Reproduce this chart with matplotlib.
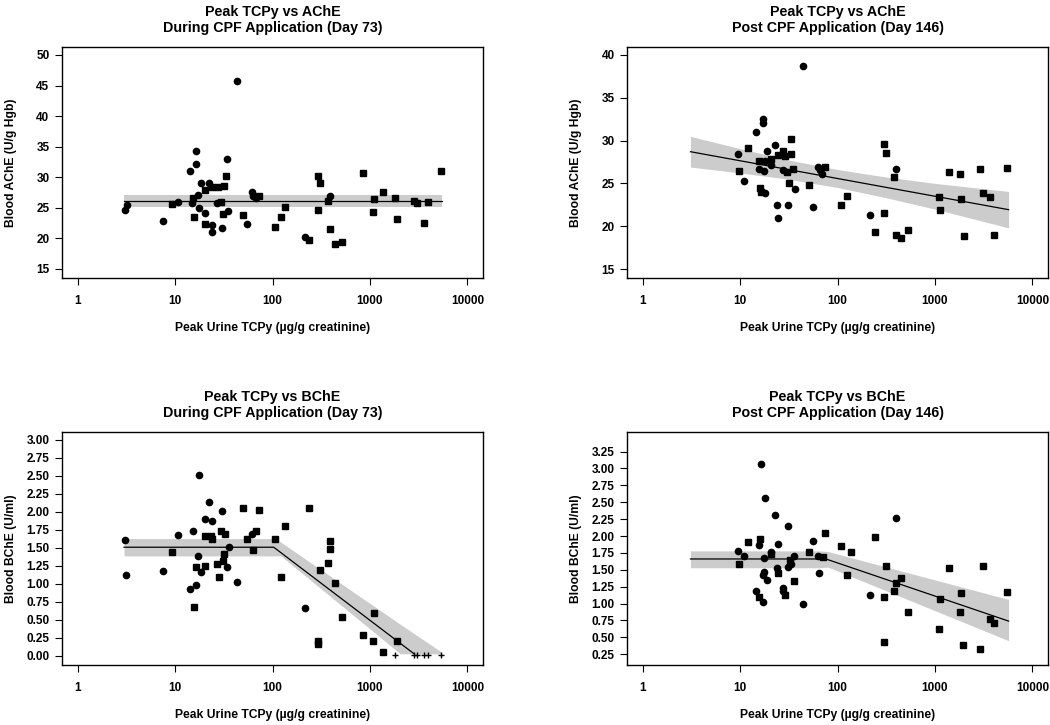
import numpy as np
import matplotlib as mpl
mpl.use('Agg')
import matplotlib.pyplot as plt

plt.rcParams['font.family'] = ['Liberation Sans', 'DejaVu Sans']
plt.rcParams['font.weight'] = 'bold'
plt.rcParams['axes.titleweight'] = 'bold'
plt.rcParams['axes.labelweight'] = 'bold'

#Peak TCPy vs AChE, day 73
ache73_circ_x = [43.3, 16.6, 16.6, 14.3, 33.9, 18.4, 22.4, 17.1, 15.1, 10.8, 3.19, 3.03, 17.7,
                 27.0, 35.3, 20.4, 7.6, 23.8, 24.0, 30.4, 55.1, 61.5, 63.5, 67.6, 393, 213]
ache73_circ_y = [45.7, 34.2, 32.2, 31.0, 33.0, 29.1, 29.0, 27.1, 25.8, 26.0, 25.4, 24.6, 25.0,
                 25.8, 24.5, 24.2, 22.9, 22.1, 21.1, 21.7, 22.4, 27.6, 27.0, 26.6, 27.0, 20.2]
ache73_sq_x = [33.6, 23.8, 27.7, 32.1, 20.2, 15.4, 9.4, 29.9, 30.9, 15.8, 20.5, 50.2, 73.1, 134,
               122, 105, 296, 310, 840, 5310, 371, 296, 1355, 1097, 1797, 1081, 1915, 2810,
               3070, 3950, 3590, 389, 239, 438, 516]
ache73_sq_y = [30.25, 28.45, 28.45, 28.6, 27.85, 26.65, 25.6, 26.0, 23.9, 23.5, 22.3, 23.8, 26.9,
               25.1, 23.5, 21.9, 30.25, 29.1, 30.7, 31.0, 26.1, 24.6, 27.6, 26.4, 26.6, 24.3,
               23.2, 26.05, 25.8, 25.9, 22.5, 21.5, 19.7, 19.0, 19.4]
ache73_fit_x = [3.0, 5500]
ache73_fit_y = [26.15, 26.15]
ache73_band_x = [3.0, 5500]
ache73_band_lo = [25.2, 25.2]
ache73_band_hi = [27.1, 27.1]

#Peak TCPy vs AChE, day 146
ache146_circ_x = [44.3, 17.0, 17.0, 14.6, 9.5, 18.8, 22.9, 18.0, 21.0, 15.6, 17.7, 27.7, 11.0,
                  18.2, 36.4, 24.2, 31.3, 24.8, 56.4, 63.5, 66.5, 69.7, 218, 402]
ache146_circ_y = [38.75, 32.5, 32.1, 31.0, 28.4, 28.75, 29.5, 27.6, 27.2, 26.65, 26.5, 26.6, 25.25,
                  23.9, 24.35, 22.45, 22.5, 21.0, 22.25, 26.95, 26.55, 26.1, 21.3, 26.65]
ache146_sq_x = [12.0, 33.1, 27.9, 24.4, 29.0, 33.4, 20.7, 15.8, 9.7, 30.4, 35.3, 31.6, 16.1, 16.5,
                51.4, 74.8, 300, 318, 380, 125, 108, 303, 245, 402, 448, 528, 1387, 1814, 2905,
                5490, 1107, 1122, 1841, 3140, 3675, 1973, 4040]
ache146_sq_y = [29.15, 30.15, 28.8, 28.3, 28.2, 28.4, 27.8, 27.6, 26.45, 26.3, 26.65, 25.1, 24.5,
                23.95, 24.8, 26.95, 29.65, 28.5, 25.7, 23.5, 22.45, 21.55, 19.3, 18.95, 18.6,
                19.5, 26.35, 26.1, 26.7, 26.85, 23.4, 21.9, 23.15, 23.9, 23.4, 18.85, 18.95]
ache146_fit_x = [3.1, 5700]
ache146_fit_y = [28.7, 21.93]
ache146_band_x = [3.1, 10, 30, 100, 300, 1000, 5700]
ache146_band_lo = [26.91, 26.22, 25.52, 24.52, 23.38, 22.00, 19.80]
ache146_band_hi = [30.49, 29.06, 27.78, 26.62, 25.78, 25.00, 24.06]

#Peak TCPy vs BChE, day 73
bche73_circ_x = [17.7, 22.4, 30.4, 20.4, 24.0, 15.2, 10.7, 62.1, 3.03, 35.6, 17.1, 33.9, 18.5,
                 7.6, 3.17, 43.0, 16.6, 14.3, 213]
bche73_circ_y = [2.51, 2.14, 2.01, 1.90, 1.87, 1.73, 1.68, 1.70, 1.61, 1.52, 1.39, 1.24, 1.17,
                 1.18, 1.13, 1.03, 0.99, 0.93, 0.67]
bche73_sq_x = [50.2, 73.1, 135, 20.2, 23.6, 23.8, 29.9, 32.3, 67.7, 55.1, 106, 63.5, 9.4, 32.1,
               30.9, 27.0, 16.6, 20.5, 28.1, 122, 15.5, 239, 393, 393, 371, 307, 438, 516,
               1097, 294, 294, 840, 1081, 1915, 1355]
bche73_sq_y = [2.06, 2.03, 1.81, 1.67, 1.67, 1.62, 1.74, 1.70, 1.73, 1.63, 1.63, 1.47, 1.44, 1.42,
               1.32, 1.28, 1.24, 1.25, 1.09, 1.09, 0.68, 2.06, 1.59, 1.49, 1.29, 1.19, 1.01, 0.54,
               0.60, 0.21, 0.17, 0.29, 0.21, 0.21, 0.06]
bche73_plus_x = [1797, 2860, 3070, 3620, 3950, 5360]
bche73_plus_y = [0.02, 0.02, 0.02, 0.02, 0.02, 0.02]
bche73_fit_x = [3.0, 103, 2840]
bche73_fit_y = [1.51, 1.51, 0.03]
bche73_band_x = [3.0, 107, 122, 2050, 5360]
bche73_band_lo = [1.39, 1.39, 1.39, 0.03, 0.03]
bche73_band_hi = [1.63, 1.63, 1.58, 0.44, 0.06]

#Peak TCPy vs BChE, day 146
bche146_circ_x = [16.3, 18.1, 22.9, 31.1, 15.5, 24.6, 56.4, 9.5, 11.0, 21.0, 17.8, 36.1, 33.4,
                  30.9, 24.2, 63.5, 17.5, 17.0, 18.8, 64.5, 14.6, 27.7, 27.9, 17.0, 44.3, 402, 218]
bche146_circ_y = [3.07, 2.56, 2.31, 2.15, 1.87, 1.88, 1.92, 1.78, 1.71, 1.77, 1.67, 1.70, 1.59,
                  1.54, 1.53, 1.70, 1.47, 1.43, 1.35, 1.45, 1.19, 1.23, 1.18, 1.02, 1.00, 2.26, 1.12]
bche146_sq_x = [12.0, 16.2, 21.0, 32.8, 51.4, 9.7, 24.4, 35.6, 28.8, 15.8, 70.5, 74.8, 245, 109,
                138, 125, 318, 448, 398, 380, 303, 528, 303, 1387, 3140, 5490, 1122, 1841, 1814,
                1107, 3675, 4040, 1960, 2905]
bche146_sq_y = [1.91, 1.96, 1.74, 1.64, 1.76, 1.59, 1.45, 1.34, 1.13, 1.10, 1.69, 2.04, 1.99, 1.85,
                1.76, 1.42, 1.55, 1.38, 1.30, 1.19, 1.10, 0.88, 0.43, 1.52, 1.55, 1.17, 1.07, 1.16,
                0.87, 0.63, 0.77, 0.71, 0.39, 0.32]
bche146_fit_x = [3.1, 76, 5700]
bche146_fit_y = [1.66, 1.66, 0.74]
bche146_band_x = [3.1, 65, 80, 5700]
bche146_band_lo = [1.53, 1.53, 1.54, 0.45]
bche146_band_hi = [1.78, 1.78, 1.77, 1.06]

xlabel = "Peak Urine TCPy (\u00b5g/g creatinine)"

panels = [
    ("Peak TCPy vs AChE\nDuring CPF Application (Day 73)", "Blood AChE (U/g Hgb)",
     ache73_circ_x, ache73_circ_y, ache73_sq_x, ache73_sq_y, [], [],
     ache73_fit_x, ache73_fit_y, ache73_band_x, ache73_band_lo, ache73_band_hi,
     np.arange(15, 51, 5), "%d", (13.5, 51.3)),
    ("Peak TCPy vs AChE\nPost CPF Application (Day 146)", "Blood AChE (U/g Hgb)",
     ache146_circ_x, ache146_circ_y, ache146_sq_x, ache146_sq_y, [], [],
     ache146_fit_x, ache146_fit_y, ache146_band_x, ache146_band_lo, ache146_band_hi,
     np.arange(15, 41, 5), "%d", (13.95, 40.93)),
    ("Peak TCPy vs BChE\nDuring CPF Application (Day 73)", "Blood BChE (U/ml)",
     bche73_circ_x, bche73_circ_y, bche73_sq_x, bche73_sq_y, bche73_plus_x, bche73_plus_y,
     bche73_fit_x, bche73_fit_y, bche73_band_x, bche73_band_lo, bche73_band_hi,
     np.arange(0, 3.01, 0.25), "%.2f", (-0.125, 3.11)),
    ("Peak TCPy vs BChE\nPost CPF Application (Day 146)", "Blood BChE (U/ml)",
     bche146_circ_x, bche146_circ_y, bche146_sq_x, bche146_sq_y, [], [],
     bche146_fit_x, bche146_fit_y, bche146_band_x, bche146_band_lo, bche146_band_hi,
     np.arange(0.25, 3.26, 0.25), "%.2f", (0.09, 3.54)),
]

#axes boxes in pixels: left, top, right, bottom
boxes = [(62, 47, 483, 278), (627, 47, 1048, 278), (62, 432, 483, 665), (627, 432, 1048, 665)]
W, H = 1050, 725

fig = plt.figure(figsize=(10.5, 7.25), dpi=100)

for p, b in zip(panels, boxes):
    (title, ylab, cx, cy, sx, sy, px, py, fx, fy, bx, blo, bhi, yt, yfmt, ylim) = p
    left, top, right, bottom = b
    ax = fig.add_axes([left/W, 1 - bottom/H, (right-left)/W, (bottom-top)/H])
    ax.set_xscale('log')
    ax.fill_between(bx, blo, bhi, color='#cccccc', linewidth=0, zorder=1)
    ax.plot(fx, fy, color='black', lw=0.9, zorder=2)
    ax.plot(cx, cy, 'o', color='black', ms=4.5, zorder=3)
    ax.plot(sx, sy, 's', color='black', ms=4.1, zorder=3)
    if len(px):
        ax.plot(px, py, '+', color='black', ms=4.5, mew=1.0, zorder=3)
    ax.set_xlim(10**-0.16, 10**4.16)
    ax.set_ylim(*ylim)
    ax.set_xticks([1, 10, 100, 1000, 10000])
    ax.set_xticklabels(["1", "10", "100", "1000", "10000"])
    ax.xaxis.set_minor_locator(mpl.ticker.NullLocator())
    ax.set_yticks(yt)
    ax.set_yticklabels([yfmt % v for v in yt])
    ax.tick_params(labelsize=8.5, length=5, width=0.8, direction='out')
    ax.tick_params(axis='x', pad=7)
    ax.tick_params(axis='y', pad=4)
    for s in ax.spines.values():
        s.set_linewidth(1.0)
    ax.set_title(title, fontsize=10.3, pad=10.5, linespacing=1.25)
    ax.set_xlabel(xlabel, fontsize=8.7)
    ax.xaxis.set_label_coords(0.5, -44.0 / (bottom - top))
    ax.set_ylabel(ylab, fontsize=8.7)
    ax.yaxis.set_label_coords(-45.0 / (right - left), 0.5)

plt.savefig("out.png", dpi=100)
